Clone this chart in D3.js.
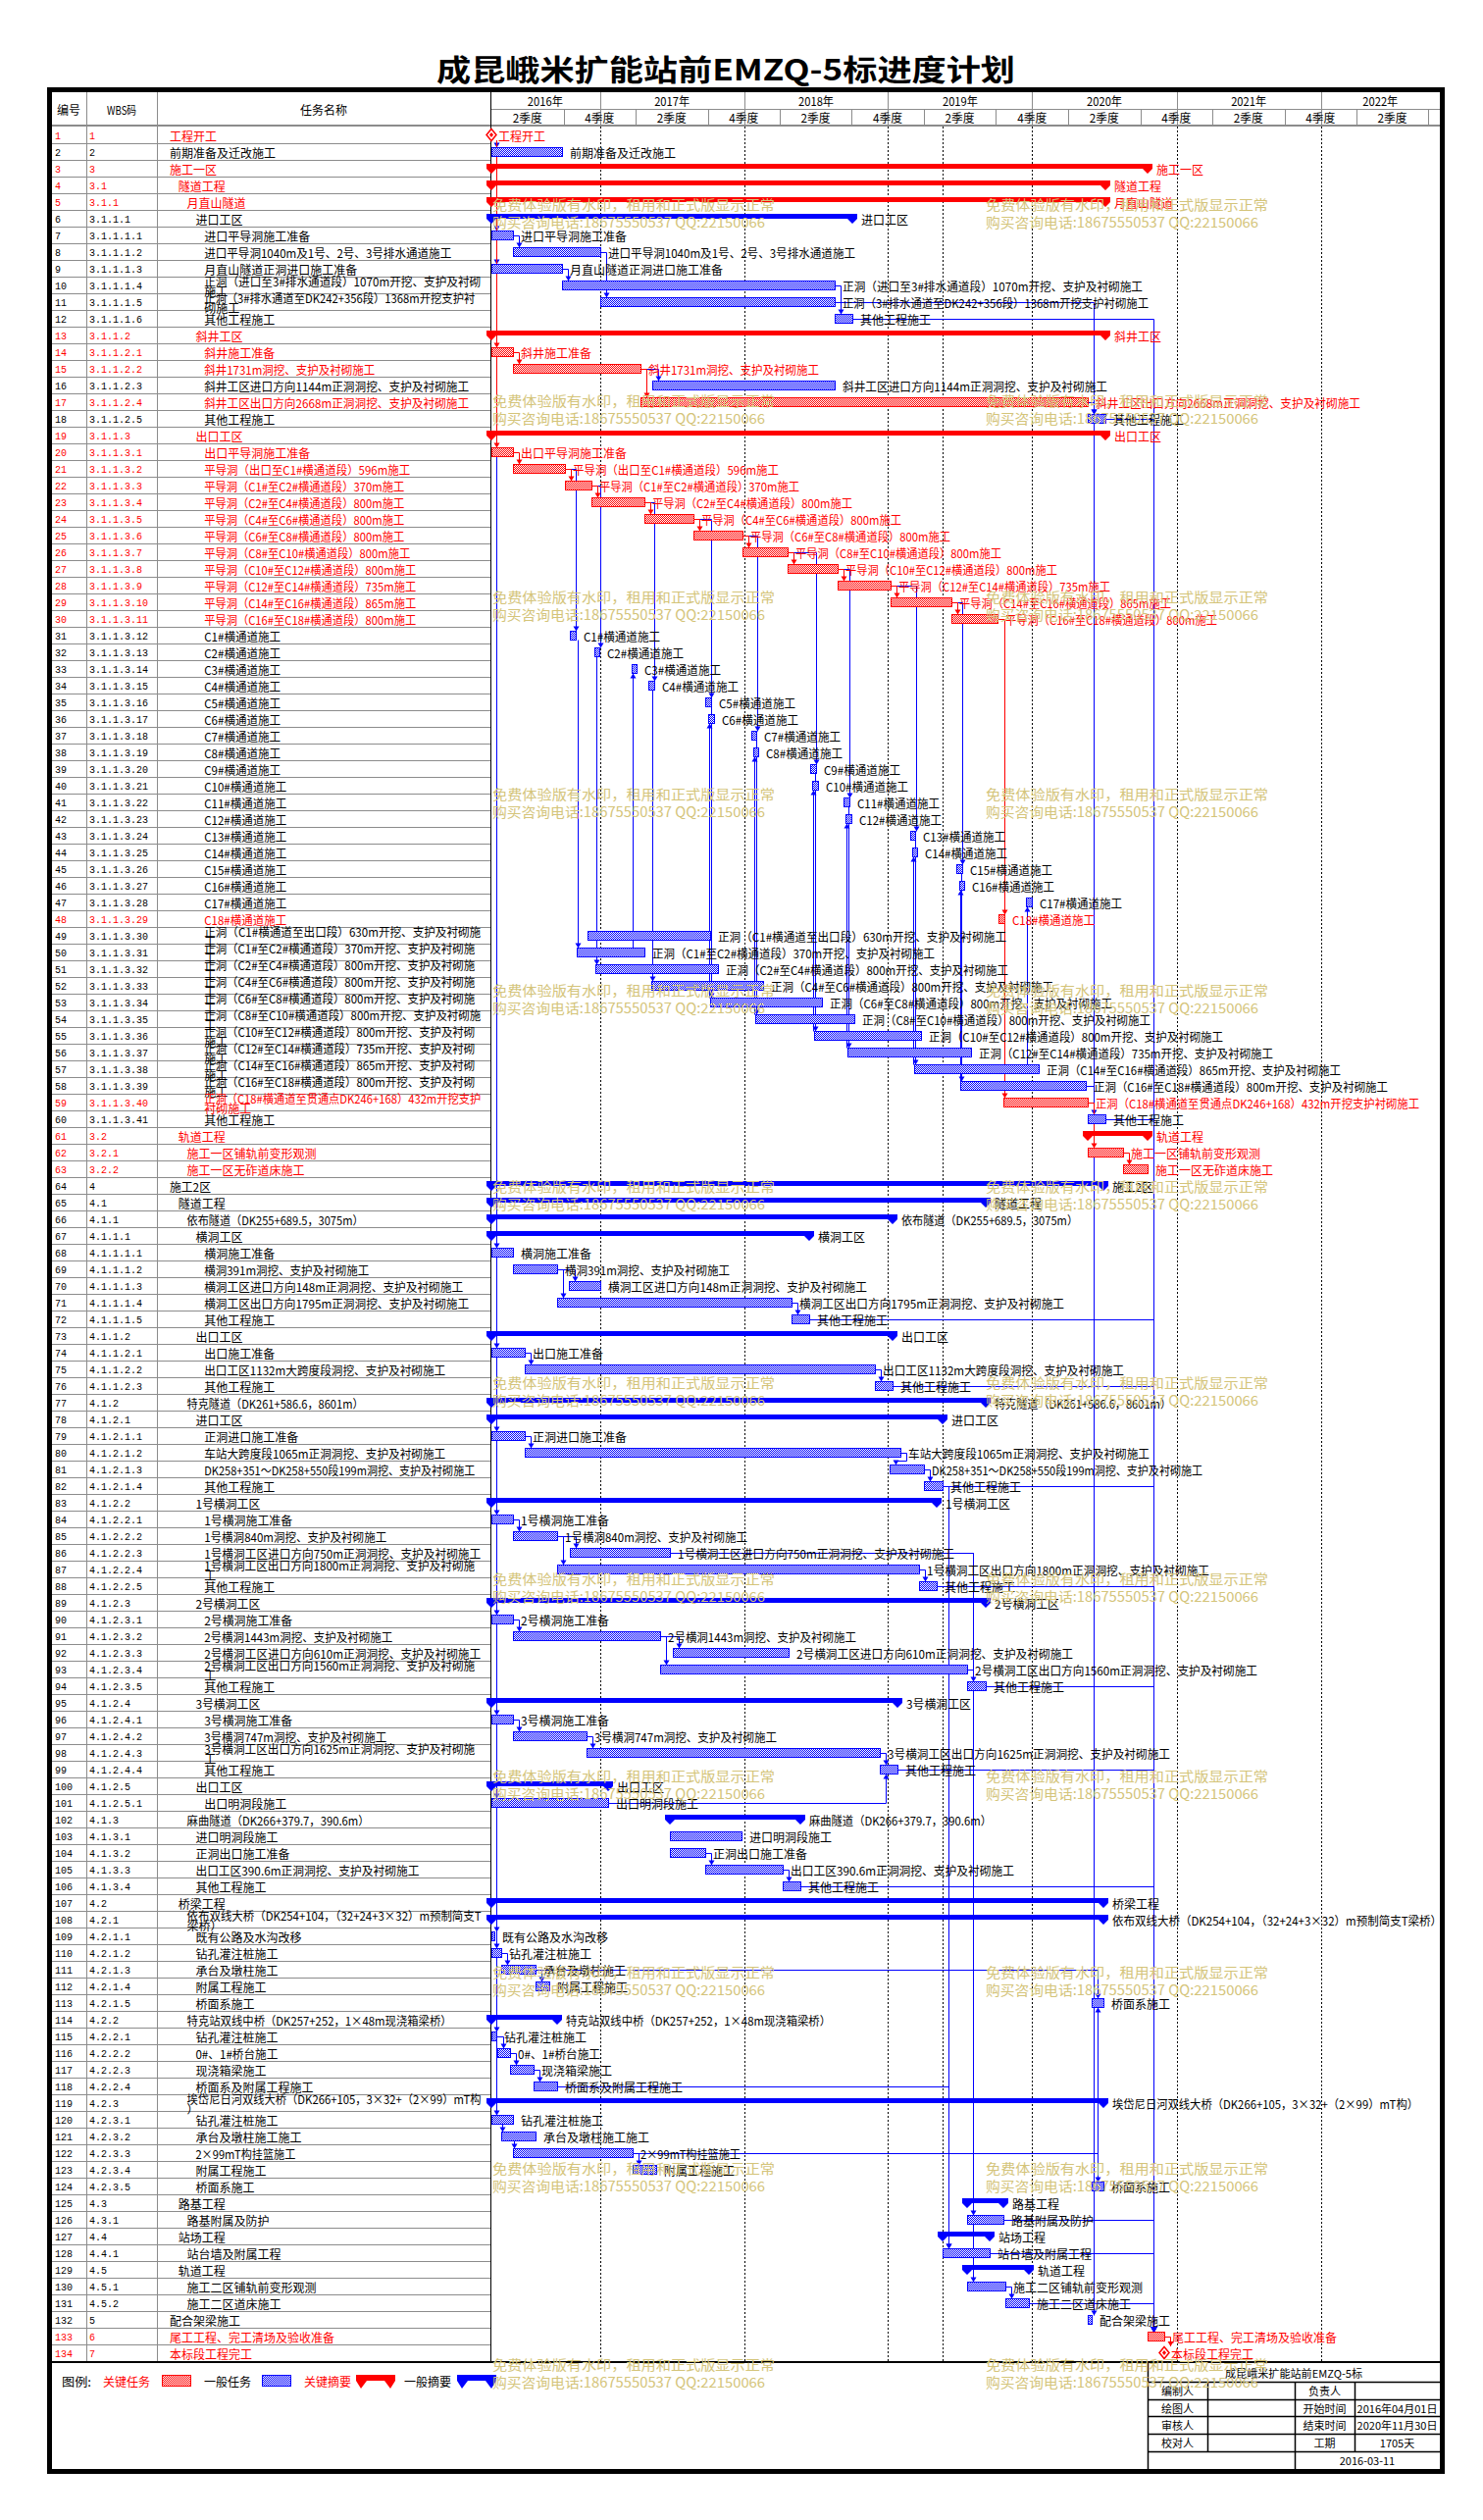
<!DOCTYPE html>
<html><head><meta charset="utf-8">
<script src="https://cdn.jsdelivr.net/npm/d3@7/dist/d3.min.js"></script>
<style>html,body{margin:0;padding:0;background:#fff}svg{display:block}</style>
</head><body>
<svg id="chart" width="1512" height="2569"></svg>
<script>
// ---------------- DATA ----------------
const chartTitle = "成昆峨米扩能站前EMZQ-5标进度计划";
const wbs = ["1","2","3","3.1","3.1.1","3.1.1.1","3.1.1.1.1","3.1.1.1.2","3.1.1.1.3","3.1.1.1.4",
"3.1.1.1.5","3.1.1.1.6","3.1.1.2","3.1.1.2.1","3.1.1.2.2","3.1.1.2.3","3.1.1.2.4","3.1.1.2.5","3.1.1.3","3.1.1.3.1",
"3.1.1.3.2","3.1.1.3.3","3.1.1.3.4","3.1.1.3.5","3.1.1.3.6","3.1.1.3.7","3.1.1.3.8","3.1.1.3.9","3.1.1.3.10","3.1.1.3.11",
"3.1.1.3.12","3.1.1.3.13","3.1.1.3.14","3.1.1.3.15","3.1.1.3.16","3.1.1.3.17","3.1.1.3.18","3.1.1.3.19","3.1.1.3.20","3.1.1.3.21",
"3.1.1.3.22","3.1.1.3.23","3.1.1.3.24","3.1.1.3.25","3.1.1.3.26","3.1.1.3.27","3.1.1.3.28","3.1.1.3.29","3.1.1.3.30","3.1.1.3.31",
"3.1.1.3.32","3.1.1.3.33","3.1.1.3.34","3.1.1.3.35","3.1.1.3.36","3.1.1.3.37","3.1.1.3.38","3.1.1.3.39","3.1.1.3.40","3.1.1.3.41",
"3.2","3.2.1","3.2.2","4","4.1","4.1.1","4.1.1.1","4.1.1.1.1","4.1.1.1.2","4.1.1.1.3",
"4.1.1.1.4","4.1.1.1.5","4.1.1.2","4.1.1.2.1","4.1.1.2.2","4.1.1.2.3","4.1.2","4.1.2.1","4.1.2.1.1","4.1.2.1.2",
"4.1.2.1.3","4.1.2.1.4","4.1.2.2","4.1.2.2.1","4.1.2.2.2","4.1.2.2.3","4.1.2.2.4","4.1.2.2.5","4.1.2.3","4.1.2.3.1",
"4.1.2.3.2","4.1.2.3.3","4.1.2.3.4","4.1.2.3.5","4.1.2.4","4.1.2.4.1","4.1.2.4.2","4.1.2.4.3","4.1.2.4.4","4.1.2.5",
"4.1.2.5.1","4.1.3","4.1.3.1","4.1.3.2","4.1.3.3","4.1.3.4","4.2","4.2.1","4.2.1.1","4.2.1.2",
"4.2.1.3","4.2.1.4","4.2.1.5","4.2.2","4.2.2.1","4.2.2.2","4.2.2.3","4.2.2.4","4.2.3","4.2.3.1",
"4.2.3.2","4.2.3.3","4.2.3.4","4.2.3.5","4.3","4.3.1","4.4","4.4.1","4.5","4.5.1",
"4.5.2","5","6","7"];
const names = ["工程开工","前期准备及迁改施工","施工一区","隧道工程","月直山隧道","进口工区","进口平导洞施工准备",
"进口平导洞1040m及1号、2号、3号排水通道施工","月直山隧道正洞进口施工准备",
"正洞（进口至3#排水通道段）1070m开挖、支护及衬砌施工","正洞（3#排水通道至DK242+356段）1368m开挖支护衬砌施工",
"其他工程施工","斜井工区","斜井施工准备","斜井1731m洞挖、支护及衬砌施工","斜井工区进口方向1144m正洞洞挖、支护及衬砌施工",
"斜井工区出口方向2668m正洞洞挖、支护及衬砌施工","其他工程施工","出口工区","出口平导洞施工准备",
"平导洞（出口至C1#横通道段）596m施工","平导洞（C1#至C2#横通道段）370m施工","平导洞（C2#至C4#横通道段）800m施工",
"平导洞（C4#至C6#横通道段）800m施工","平导洞（C6#至C8#横通道段）800m施工","平导洞（C8#至C10#横通道段）800m施工",
"平导洞（C10#至C12#横通道段）800m施工","平导洞（C12#至C14#横通道段）735m施工","平导洞（C14#至C16#横通道段）865m施工",
"平导洞（C16#至C18#横通道段）800m施工",
"C1#横通道施工","C2#横通道施工","C3#横通道施工","C4#横通道施工","C5#横通道施工","C6#横通道施工","C7#横通道施工",
"C8#横通道施工","C9#横通道施工","C10#横通道施工","C11#横通道施工","C12#横通道施工","C13#横通道施工","C14#横通道施工",
"C15#横通道施工","C16#横通道施工","C17#横通道施工","C18#横通道施工",
"正洞（C1#横通道至出口段）630m开挖、支护及衬砌施工","正洞（C1#至C2#横通道段）370m开挖、支护及衬砌施工",
"正洞（C2#至C4#横通道段）800m开挖、支护及衬砌施工","正洞（C4#至C6#横通道段）800m开挖、支护及衬砌施工",
"正洞（C6#至C8#横通道段）800m开挖、支护及衬砌施工","正洞（C8#至C10#横通道段）800m开挖、支护及衬砌施工",
"正洞（C10#至C12#横通道段）800m开挖、支护及衬砌施工","正洞（C12#至C14#横通道段）735m开挖、支护及衬砌施工",
"正洞（C14#至C16#横通道段）865m开挖、支护及衬砌施工","正洞（C16#至C18#横通道段）800m开挖、支护及衬砌施工",
"正洞（C18#横通道至贯通点DK246+168）432m开挖支护衬砌施工","其他工程施工",
"轨道工程","施工一区铺轨前变形观测","施工一区无砟道床施工","施工2区","隧道工程","依布隧道（DK255+689.5，3075m）",
"横洞工区","横洞施工准备","横洞391m洞挖、支护及衬砌施工","横洞工区进口方向148m正洞洞挖、支护及衬砌施工",
"横洞工区出口方向1795m正洞洞挖、支护及衬砌施工","其他工程施工","出口工区","出口施工准备",
"出口工区1132m大跨度段洞挖、支护及衬砌施工","其他工程施工","特克隧道（DK261+586.6，8601m）","进口工区",
"正洞进口施工准备","车站大跨度段1065m正洞洞挖、支护及衬砌施工","DK258+351～DK258+550段199m洞挖、支护及衬砌施工",
"其他工程施工","1号横洞工区","1号横洞施工准备","1号横洞840m洞挖、支护及衬砌施工",
"1号横洞工区进口方向750m正洞洞挖、支护及衬砌施工","1号横洞工区出口方向1800m正洞洞挖、支护及衬砌施工","其他工程施工",
"2号横洞工区","2号横洞施工准备","2号横洞1443m洞挖、支护及衬砌施工","2号横洞工区进口方向610m正洞洞挖、支护及衬砌施工",
"2号横洞工区出口方向1560m正洞洞挖、支护及衬砌施工","其他工程施工","3号横洞工区","3号横洞施工准备",
"3号横洞747m洞挖、支护及衬砌施工","3号横洞工区出口方向1625m正洞洞挖、支护及衬砌施工","其他工程施工","出口工区",
"出口明洞段施工","麻曲隧道（DK266+379.7，390.6m）","进口明洞段施工","正洞出口施工准备",
"出口工区390.6m正洞洞挖、支护及衬砌施工","其他工程施工","桥梁工程",
"依布双线大桥（DK254+104，（32+24+3×32）m预制简支T梁桥）","既有公路及水沟改移","钻孔灌注桩施工","承台及墩柱施工",
"附属工程施工","桥面系施工","特克站双线中桥（DK257+252，1×48m现浇箱梁桥）","钻孔灌注桩施工","0#、1#桥台施工",
"现浇箱梁施工","桥面系及附属工程施工","埃岱尼日河双线大桥（DK266+105，3×32+（2×99）mT构）","钻孔灌注桩施工",
"承台及墩柱施工施工","2×99mT构挂篮施工","附属工程施工","桥面系施工","路基工程","路基附属及防护","站场工程",
"站台墙及附属工程","轨道工程","施工二区铺轨前变形观测","施工二区道床施工","配合架梁施工",
"尾工工程、完工清场及验收准备","本标段工程完工"];
// m = milestone, t = task, s = summary
const kinds = ["m","t","s","s","s","s","t","t","t","t", "t","t","s","t","t","t","t","t","s","t",
"t","t","t","t","t","t","t","t","t","t", "t","t","t","t","t","t","t","t","t","t",
"t","t","t","t","t","t","t","t","t","t", "t","t","t","t","t","t","t","t","t","t",
"s","t","t","s","s","s","s","t","t","t", "t","t","s","t","t","t","s","s","t","t",
"t","t","s","t","t","t","t","t","s","t", "t","t","t","t","s","t","t","t","t","s",
"t","s","t","t","t","t","s","s","t","t", "t","t","t","s","t","t","t","t","s","t",
"t","t","t","t","s","t","s","t","s","t", "t","t","t","m"];
const starts = ["2016-04-01","2016-04-01","2016-04-01","2016-04-01","2016-04-01","2016-04-01","2016-04-01","2016-05-25","2016-04-01","2016-09-26",
"2017-01-03","2018-08-18","2016-04-01","2016-04-01","2016-05-25","2017-05-13","2017-04-13","2020-05-20","2016-04-01","2016-04-01",
"2016-05-25","2016-10-04","2016-12-10","2017-04-23","2017-08-25","2017-12-28","2018-04-21","2018-08-26","2019-01-07","2019-06-10",
"2016-10-16","2016-12-17","2017-03-22","2017-05-03","2017-09-24","2017-10-02","2018-01-19","2018-01-24","2018-06-17","2018-06-22",
"2018-09-10","2018-09-15","2019-02-26","2019-03-03","2019-06-23","2019-07-01","2019-12-16","2019-10-07","2016-11-30","2016-11-02",
"2016-12-20","2017-05-11","2017-10-07","2018-01-29","2018-06-27","2018-09-20","2019-03-08","2019-07-03","2019-10-19","2020-05-20",
"2020-05-20","2020-05-20","2020-08-17","2016-04-01","2016-04-01","2016-04-01","2016-04-01","2016-04-01","2016-05-25","2016-10-14",
"2016-09-14","2018-05-01","2016-04-01","2016-04-01","2016-06-24","2018-11-28","2016-04-01","2016-04-01","2016-04-01","2016-06-24",
"2019-01-04","2019-04-01","2016-04-01","2016-04-01","2016-05-25","2016-10-16","2016-09-14","2019-03-20","2016-04-01","2016-04-01",
"2016-05-25","2017-07-04","2017-06-02","2019-07-21","2016-04-01","2016-04-01","2016-05-25","2016-11-28","2018-12-11","2016-04-01",
"2016-04-01","2017-06-27","2017-06-27","2017-06-27","2017-09-24","2018-04-08","2016-04-01","2016-04-01","2016-04-01","2016-04-01",
"2016-04-25","2016-07-23","2020-05-30","2016-04-01","2016-04-01","2016-04-16","2016-05-18","2016-07-16","2016-04-01","2016-04-01",
"2016-04-25","2016-05-25","2017-03-24","2020-05-30","2019-07-21","2019-07-21","2019-05-18","2019-05-18","2019-07-21","2019-07-21",
"2019-10-24","2020-05-20","2020-10-19","2020-11-30"];
const ends = ["2016-04-01","2016-09-26","2020-10-19","2020-07-04","2020-07-04","2018-10-02","2016-05-25","2017-01-03","2016-09-26","2018-08-18",
"2018-08-18","2018-10-02","2020-07-04","2016-05-25","2017-04-13","2018-08-18","2020-05-20","2020-07-04","2020-07-04","2016-05-25",
"2016-10-04","2016-12-10","2017-04-23","2017-08-25","2017-12-28","2018-04-21","2018-08-26","2019-01-07","2019-06-10","2019-10-04",
"2016-10-31","2016-12-30","2017-04-03","2017-05-18","2017-10-09","2017-10-17","2018-01-31","2018-02-05","2018-07-02","2018-07-07",
"2018-09-25","2018-09-30","2019-03-10","2019-03-15","2019-07-08","2019-07-13","2019-12-31","2019-10-22","2017-10-07","2017-04-23",
"2017-10-27","2018-02-18","2018-07-17","2018-10-07","2019-03-25","2019-07-29","2020-01-17","2020-05-15","2020-05-20","2020-07-04",
"2020-10-19","2020-08-17","2020-10-19","2020-06-29","2019-09-06","2019-01-12","2018-06-15","2016-05-25","2016-09-14","2017-01-03",
"2018-05-01","2018-06-15","2019-01-12","2016-06-24","2018-11-28","2019-01-12","2019-09-06","2019-05-18","2016-06-24","2019-02-01",
"2019-04-01","2019-05-18","2019-05-04","2016-05-25","2016-09-14","2017-06-27","2019-03-20","2019-05-04","2019-09-06","2016-05-25",
"2017-06-02","2018-04-23","2019-07-21","2019-09-06","2019-01-24","2016-05-25","2016-11-28","2018-12-11","2019-01-24","2017-01-21",
"2017-01-21","2018-05-23","2017-12-25","2017-09-24","2018-04-08","2018-05-23","2020-06-29","2020-06-29","2016-04-08","2016-04-25",
"2016-07-23","2016-08-25","2020-06-29","2016-09-14","2016-04-13","2016-05-18","2016-07-16","2016-09-14","2020-06-29","2016-05-25",
"2016-07-23","2017-03-24","2017-05-23","2020-06-29","2019-10-19","2019-10-19","2019-09-14","2019-09-14","2019-12-23","2019-10-24",
"2019-12-23","2020-05-30","2020-11-30","2020-11-30"];
const criticalRows = [1,3,4,5,13,14,15,17,19,20,21,22,23,24,25,26,27,28,29,30,48,59,61,62,63,133,134];
// finish-to-start links [predecessor, successor]
const fsLinks = [[7,8],[8,11],[9,10],[10,12],[11,18],[12,133],[14,15],[15,16],[15,17],[17,18],[17,132],[18,133],
[20,21],[21,22],[22,23],[23,24],[24,25],[25,26],[26,27],[27,28],[28,29],[29,30],
[21,31],[22,32],[23,34],[24,35],[25,37],[26,39],[27,41],[28,43],[29,45],[30,48],
[58,60],[59,62],[60,133],[62,63],[69,70],[69,71],[71,72],[72,133],[74,75],[75,76],[76,133],[79,80],[80,81],[81,82],
[82,128],[82,133],[84,85],[85,86],[85,87],[86,126],[86,130],[87,88],[88,133],[90,91],[91,92],[91,93],[93,94],[94,133],
[96,97],[97,98],[98,99],[99,133],[101,99],[104,105],[105,106],[106,133],[110,111],[111,112],[111,113],[115,116],
[116,117],[117,118],[118,128],[122,123],[122,113],[122,124],[126,133],[128,133],[130,131],[131,133],[133,134]];
// start-aligned vertical links [from, to]
const ssLinks = [[31,50],[32,51],[34,52],[35,53],[37,54],[39,55],[41,56],[43,57],[45,58],[48,59],[50,33],[53,36],
[54,38],[55,40],[56,42],[57,44],[58,46],[57,47],[120,121],[121,122]];
// links from the start milestone (row 1)
const startLinks = [2,7,9,14,20,68,74,79,84,90,96,101,109,110,115,120];
const statusDate = "2019-05-18";
const quarterNames = ["2季度","4季度"];
const headerCols = ["编号","WBS码","任务名称"];
const legendItems = [["关键任务","tR"],["一般任务","tB"],["关键摘要","sR"],["一般摘要","sB"]];
const infoRows = [["编制人","","负责人",""],["绘图人","","开始时间","2016年04月01日"],["审核人","","结束时间","2020年11月30日"],["校对人","","工期","1705天"]];
const infoTitle = "成昆峨米扩能站前EMZQ-5标";
const infoDate = "2016-03-11";
const watermark = ["免费体验版有水印，租用和正式版显示正常","购买咨询电话:18675550537 QQ:22150066"];

// ---------------- SETUP ----------------
const svg = d3.select("#chart");
const F = '"Noto Sans CJK SC","Noto Sans",sans-serif';
const MONO = '"Liberation Mono","DejaVu Sans Mono",monospace';
const RED = "#ff0000", BLUE = "#0000ff", GRID = "#8c8c8c";
const parse = d3.timeParse("%Y-%m-%d");
const N = names.length;
const ids = d3.range(1, N + 1);
const crit = new Set(criticalRows);
const S = starts.map(parse), E = ends.map(parse);
const x = d3.scaleTime().domain([parse("2016-04-01"), parse("2020-11-30")]).range([501, 501 + 1704 * 147 / 365.25]);
const yb = d3.scaleBand().domain(ids).range([129, 129 + N * 17]);
const RH = yb.bandwidth();
const TL = 500, TR = 1468, L = 53;
const bodyTop = 129, bodyBot = 129 + N * 17;
const cw = ch => ch.charCodeAt(0) < 128 ? 6 : 12;
const sw = s => Array.from(s).reduce((a, c) => a + cw(c), 0);
function fit(sel, s) { sel.text(s); if (s.length) sel.attr("textLength", sw(s)).attr("lengthAdjust", "spacingAndGlyphs"); }
const px = v => Math.round(v) + 0.5;

const defs = svg.append("defs");
[["hR", RED], ["hB", BLUE]].forEach(([id, c]) => {
  const p = defs.append("pattern").attr("id", id).attr("patternUnits", "userSpaceOnUse").attr("width", 2).attr("height", 2);
  p.append("rect").attr("width", 2).attr("height", 2).attr("fill", "#fff");
  p.append("rect").attr("width", 1).attr("height", 1).attr("fill", c);
  p.append("rect").attr("x", 1).attr("y", 1).attr("width", 1).attr("height", 1).attr("fill", c);
});
const clip = defs.append("clipPath").attr("id", "tl");
clip.append("rect").attr("x", 490).attr("y", 94).attr("width", TR - 490).attr("height", bodyBot - 94);

function line(g, x1, y1, x2, y2, c, w, dash) {
  const l = g.append("line").attr("x1", x1).attr("y1", y1).attr("x2", x2).attr("y2", y2).attr("stroke", c).attr("stroke-width", w || 1);
  if (dash) l.attr("stroke-dasharray", dash);
  return l;
}
function txt(g, s, xx, yy, opt = {}) {
  const t = g.append("text").attr("x", xx).attr("y", yy).attr("dominant-baseline", "central")
    .attr("font-family", opt.font || F).attr("font-size", opt.size || 12).attr("fill", opt.fill || "#000");
  if (opt.anchor) t.attr("text-anchor", opt.anchor);
  if (opt.fitw === false) t.text(s); else fit(t, s);
  return t;
}

// ---------------- TITLE ----------------
svg.append("text").attr("x", 740).attr("y", 69).attr("text-anchor", "middle").attr("dominant-baseline", "central")
  .attr("font-family", F).attr("font-size", 30).attr("font-weight", 700).attr("textLength", 590)
  .attr("lengthAdjust", "spacingAndGlyphs").text(chartTitle);

// ---------------- HEADER ----------------
const gH = svg.append("g");
txt(gH, headerCols[0], 70, 111, { anchor: "middle" });
txt(gH, headerCols[1], 124, 111, { anchor: "middle" });
txt(gH, headerCols[2], 330, 111, { anchor: "middle" });
const years = d3.timeYear.range(parse("2016-01-01"), parse("2023-01-01"));
years.forEach(yr => {
  const a = Math.max(TL, x(yr)), b = Math.min(TR, x(d3.timeYear.offset(yr, 1)));
  if (x(yr) > TL) line(gH, px(x(yr)), 94, px(x(yr)), 128, GRID);
  if (b - a > 30) txt(gH, d3.timeFormat("%Y年")(yr), (a + b) / 2, 102.5, { anchor: "middle" });
});
const halves = d3.timeMonth.range(parse("2016-04-01"), parse("2023-01-01"), 6);
halves.forEach(h => {
  const a = Math.max(TL, x(h)), b = Math.min(TR, x(d3.timeMonth.offset(h, 6)));
  if (x(h) > TL + 2 && x(h) < TR) line(gH, px(x(h)), 111, px(x(h)), 128, GRID);
  if (b - a > 30) txt(gH, quarterNames[h.getMonth() === 3 ? 0 : 1], (a + b) / 2, 119.5, { anchor: "middle" });
});
line(gH, TL, 111.5, TR, 111.5, GRID);
line(gH, L, 128, TR, 128, GRID, 2);

// ---------------- TABLE ----------------
const gT = svg.append("g");
ids.forEach((id, k) => {
  const t = yb(id);
  line(gT, L, t + RH + 0.5, TL, t + RH + 0.5, GRID);
});
line(gT, 88.5, 94, 88.5, bodyBot, GRID);
line(gT, 160.5, 94, 160.5, bodyBot, GRID);
line(gT, TL + 0.5, 94, TL + 0.5, bodyBot, "#000");
ids.forEach((id, k) => {
  const t = yb(id), col = crit.has(id) ? RED : "#000";
  txt(gT, String(id), 56, t + 9, { font: MONO, size: 11.5, fill: col });
  txt(gT, wbs[k], 91, t + 9, { font: MONO, size: 11.5, fill: col });
  const lvl = wbs[k].split(".").length;
  const x0 = 173 + (lvl - 1) * 8.8, maxW = 496 - x0;
  const nm = names[k];
  if (sw(nm) <= maxW) txt(gT, nm, x0, t + 9, { fill: col });
  else {
    let a = "", w = 0; const ch = Array.from(nm); let i = 0;
    while (i < ch.length && w + cw(ch[i]) <= maxW) { w += cw(ch[i]); a += ch[i]; i++; }
    txt(gT, a, x0, t + 4.5, { fill: col });
    txt(gT, ch.slice(i).join(""), x0, t + 14.5, { fill: col });
  }
});

// ---------------- TIMELINE BODY ----------------
const gG = svg.append("g");
years.slice(1).forEach(yr => { if (x(yr) < TR) line(gG, px(x(yr)), bodyTop, px(x(yr)), bodyBot, "#000", 1, "2,2"); });
line(gG, px(x(parse(statusDate))), bodyTop, px(x(parse(statusDate))), bodyBot, "#000", 1, "2,2");

// links
const gL = svg.append("g").attr("clip-path", "url(#tl)");
const barTop = i => kinds[i - 1] === "m" ? yb(i) + 2 : yb(i) + 4.5;
const barBot = i => yb(i) + 13.5;
const xsOf = i => x(S[i - 1]), xeOf = i => x(E[i - 1]);
function arrow(g, ax, ay, down, c) {
  const d = down ? `M${ax - 3},${ay - 5}L${ax + 3},${ay - 5}L${ax},${ay}Z` : `M${ax - 3},${ay + 5}L${ax + 3},${ay + 5}L${ax},${ay}Z`;
  g.append("path").attr("d", d).attr("fill", c);
}
const allLinks = [];
fsLinks.forEach(([p, s]) => allLinks.push({ type: "fs", p, s }));
ssLinks.forEach(([p, s]) => allLinks.push({ type: "ss", p, s }));
startLinks.forEach(s => allLinks.push({ type: "ms", p: 1, s }));
allLinks.sort((a, b) => (crit.has(a.p) && crit.has(a.s) ? 1 : 0) - (crit.has(b.p) && crit.has(b.s) ? 1 : 0));
allLinks.forEach(({ type, p, s }) => {
  const c = crit.has(p) && crit.has(s) ? RED : BLUE;
  const down = s > p;
  const ty = down ? barTop(s) : barBot(s);
  let d, ax;
  if (type === "fs") {
    const x1 = Math.round(xeOf(p)), y1 = yb(p) + 9.5;
    ax = px(xsOf(s) + 6);
    if (ax >= x1 + 3) d = `M${x1},${y1}H${ax}V${ty}`;
    else { const yy = down ? yb(p) + RH + 0.5 : yb(p) + 0.5; d = `M${x1},${y1}H${x1 + 6.5}V${yy}H${ax}V${ty}`; }
  } else if (type === "ss") {
    ax = px(xsOf(s) + 1);
    d = `M${ax},${down ? barBot(p) : barTop(p)}V${ty}`;
  } else {
    ax = px(xsOf(s) + 5);
    d = `M${ax},${yb(p) + 14}V${ty}`;
  }
  gL.append("path").attr("d", d).attr("fill", "none").attr("stroke", c).attr("stroke-width", 1);
  arrow(gL, ax, ty, down, c);
});

// bars
const gB = svg.append("g");
ids.forEach((id, k) => {
  const t = yb(id), isC = crit.has(id), c = isC ? RED : BLUE, kind = kinds[k];
  const x0 = x(S[k]), x1 = x(E[k]);
  let lx;
  if (kind === "t") {
    const a = Math.round(x0), b = Math.max(Math.round(x1), a + 3);
    gB.append("rect").attr("x", a + 0.5).attr("y", t + 4.5).attr("width", b - a).attr("height", 9)
      .attr("fill", `url(#h${isC ? "R" : "B"})`).attr("stroke", c).attr("stroke-width", 1);
    lx = b + 8;
  } else if (kind === "s") {
    const a = Math.round(x0), b = Math.round(x1), tt = t + 4, bb = t + 9, ap = t + 14;
    const d = `M${a - 5},${tt}H${b + 5}V${bb}L${b},${ap}L${b - 5},${bb}H${a + 5}L${a},${ap}L${a - 5},${bb}Z`;
    gB.append("path").attr("d", d).attr("fill", c);
    lx = b + 9;
  } else {
    const a = Math.round(x0), cy = t + 8.5;
    gB.append("path").attr("d", `M${a},${cy - 6}L${a + 5},${cy}L${a},${cy + 6}L${a - 5},${cy}Z`)
      .attr("fill", "#fff").attr("stroke", RED).attr("stroke-width", 1.5);
    gB.append("path").attr("d", `M${a},${cy - 2.5}L${a + 2},${cy}L${a},${cy + 2.5}L${a - 2},${cy}Z`).attr("fill", RED);
    lx = a + 7;
  }
  txt(gB, names[k], lx, t + 9, { fill: isC ? RED : "#000" });
});

// ---------------- FOOTER ----------------
const gF = svg.append("g");
line(gF, L, bodyBot + 1, TR, bodyBot + 1, "#000", 2);
txt(gF, "图例:", 63, 2427);
const legX = [[105, 165], [208, 267], [310, 363], [412, 466]];
legendItems.forEach(([lab, code], i) => {
  const isR = code[1] === "R", c = isR ? RED : BLUE;
  txt(gF, lab, legX[i][0], 2427, { fill: isR ? RED : "#000" });
  const a = legX[i][1];
  if (code[0] === "t") {
    gF.append("rect").attr("x", a + 0.5).attr("y", 2421.5).attr("width", 29).attr("height", 11)
      .attr("fill", `url(#h${isR ? "R" : "B"})`).attr("stroke", c);
  } else {
    const b = a + 40, tt = 2421, bb = 2427, ap = 2435;
    gF.append("path").attr("d", `M${a},${tt}H${b}V${bb}L${b - 5},${ap}L${b - 11},${bb}H${a + 11}L${a + 5},${ap}L${a},${bb}Z`).attr("fill", c);
  }
});
// info block
const bx = [1170, 1231, 1320, 1381, TR];
const by = [2409, 2428, 2446, 2463, 2481, 2499, 2517];
line(gF, px(bx[0]), by[0], px(bx[0]), by[6], "#000", 1.5);
line(gF, px(bx[2]), by[1], px(bx[2]), by[6], "#000", 1.5);
line(gF, px(bx[1]), by[1], px(bx[1]), by[5], "#000", 1.5);
line(gF, px(bx[3]), by[1], px(bx[3]), by[5], "#000", 1.5);
for (let r = 1; r <= 5; r++) line(gF, bx[0], px(by[r]), TR, px(by[r]), "#000", 1.5);
txt(gF, infoTitle, (bx[0] + TR) / 2, (by[0] + by[1]) / 2, { size: 11, anchor: "middle", fitw: false }).attr("textLength", 140).attr("lengthAdjust", "spacingAndGlyphs");
infoRows.forEach((row, r) => {
  row.forEach((v, cI) => {
    if (!v) return;
    const t = txt(gF, v, (bx[cI] + bx[cI + 1]) / 2, (by[r + 1] + by[r + 2]) / 2, { size: 11, anchor: "middle", fitw: false });
    const maxw = bx[cI + 1] - bx[cI] - 4;
    if (sw(v) * 11 / 12 > maxw) t.attr("textLength", maxw).attr("lengthAdjust", "spacingAndGlyphs");
  });
});
txt(gF, infoDate, (bx[2] + TR) / 2, (by[5] + by[6]) / 2, { size: 11, anchor: "middle", fitw: false });

// frame
svg.append("rect").attr("x", 50.5).attr("y", 91.5).attr("width", 1420).attr("height", 2428)
  .attr("fill", "none").attr("stroke", "#000").attr("stroke-width", 5);

// watermark
const gW = svg.append("g");
for (let k = 0; k < 12; k++) {
  [502, 1005].forEach(wx => {
    gW.append("text").attr("x", wx).attr("y", 208 + k * 200.2).attr("dominant-baseline", "central")
      .attr("font-family", F).attr("font-size", 14).attr("fill", "#d4c47a")
      .attr("textLength", 288).attr("lengthAdjust", "spacingAndGlyphs").text(watermark[0]);
    gW.append("text").attr("x", wx).attr("y", 226 + k * 200.2).attr("dominant-baseline", "central")
      .attr("font-family", F).attr("font-size", 14).attr("fill", "#d4c47a")
      .attr("textLength", 278).attr("lengthAdjust", "spacingAndGlyphs").text(watermark[1]);
  });
}
</script>
</body></html>
